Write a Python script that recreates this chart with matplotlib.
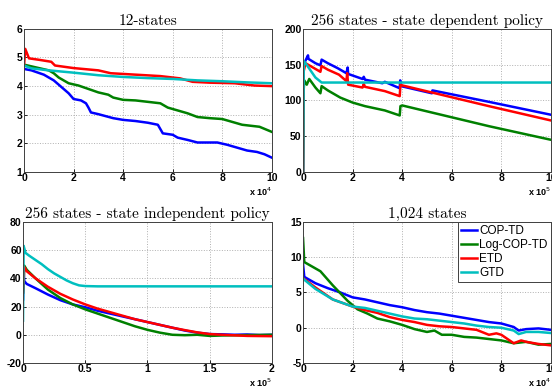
import matplotlib
matplotlib.use('Agg')
import matplotlib.pyplot as plt

# colours (matlab style)
c_blue = '#0000ff'
c_green = '#008000'
c_red = '#ff0000'
c_cyan = '#00bfbf'
labels = ['COP-TD', 'Log-COP-TD', 'ETD', 'GTD']

# ---- 12-states (x in units of 1e4)
s12_blue_x = [0, 0.3, 0.8, 1.0, 1.2, 1.4, 1.6, 1.8, 2.0, 2.3, 2.5, 2.6, 2.7, 3.0, 3.3, 3.6, 4.0, 4.5, 5.0, 5.4, 5.5, 5.6, 6.0, 6.2, 6.6, 7.0, 7.8, 8.2, 8.6, 9.0, 9.4, 9.7, 10]
s12_blue_y = [4.6, 4.55, 4.4, 4.3, 4.2, 4.05, 3.9, 3.75, 3.55, 3.5, 3.4, 3.25, 3.08, 3.02, 2.95, 2.88, 2.82, 2.78, 2.72, 2.65, 2.5, 2.35, 2.3, 2.2, 2.12, 2.03, 2.03, 1.95, 1.85, 1.75, 1.7, 1.62, 1.5]
s12_green_x = [0, 0.5, 1.0, 1.2, 1.4, 1.8, 2.2, 2.6, 3.0, 3.4, 3.6, 4.0, 4.5, 5.0, 5.5, 5.8, 6.2, 6.6, 7.0, 7.5, 8.0, 8.4, 8.8, 9.5, 10]
s12_green_y = [4.75, 4.65, 4.55, 4.45, 4.3, 4.1, 4.02, 3.9, 3.78, 3.7, 3.6, 3.52, 3.5, 3.45, 3.4, 3.25, 3.15, 3.05, 2.92, 2.88, 2.85, 2.75, 2.65, 2.58, 2.4]
s12_red_x = [0, 0.05, 0.2, 0.6, 1.1, 1.25, 2.0, 3.0, 3.5, 4.5, 5.5, 6.3, 6.8, 7.5, 8.5, 9.3, 10]
s12_red_y = [4.7, 5.3, 4.97, 4.92, 4.85, 4.72, 4.63, 4.55, 4.45, 4.4, 4.35, 4.27, 4.15, 4.12, 4.1, 4.02, 4.0]
s12_cyan_x = [0, 0.3, 1.0, 2.0, 3.0, 4.0, 5.0, 6.0, 7.0, 8.0, 9.0, 10]
s12_cyan_y = [4.72, 4.62, 4.55, 4.47, 4.38, 4.32, 4.28, 4.25, 4.2, 4.17, 4.13, 4.1]

# ---- 256 states, state dependent (x in units of 1e5)
dep_blue_x = [0, 0.02, 0.2, 0.22, 0.5, 0.7, 0.75, 1.0, 1.4, 1.75, 1.8, 1.82, 2.4, 2.45, 2.5, 3.2, 3.3, 3.9, 3.92, 3.95, 5.2, 5.22, 7.5, 10]
dep_blue_y = [0, 150, 163, 158, 152, 149, 157, 152, 145, 138, 146, 137, 130, 133, 129, 124, 126, 117, 128, 120, 110, 114, 98, 80]
dep_green_x = [0, 0.02, 0.05, 0.15, 0.25, 0.5, 0.7, 0.75, 1.0, 1.5, 2.0, 2.5, 3.3, 3.9, 3.93, 4.0, 7.5, 10]
dep_green_y = [0, 112, 128, 122, 130, 118, 110, 120, 114, 104, 97, 92, 86, 79, 92, 93, 64, 45]
dep_red_x = [0, 0.02, 0.1, 0.3, 0.7, 0.75, 1.0, 1.45, 1.75, 1.78, 1.82, 2.4, 2.45, 2.5, 3.3, 3.9, 3.93, 4.0, 7.5, 10]
dep_red_y = [0, 140, 152, 148, 140, 148, 143, 136, 127, 138, 122, 118, 123, 119, 113, 106, 122, 121, 92, 72]
dep_cyan_x = [0, 0.03, 0.1, 0.3, 0.5, 0.75, 10]
dep_cyan_y = [0, 155, 152, 142, 132, 125, 125]

# ---- 256 states, state independent (x in units of 1e5)
ind_blue_x = [0, 0.005, 0.01, 0.03, 0.1, 0.2, 0.3, 0.4, 0.5, 0.6, 0.7, 0.8, 0.9, 1.0, 1.1, 1.2, 1.3, 1.4, 1.5, 1.6, 1.7, 1.8, 1.9, 2.0]
ind_blue_y = [25, 45, 38, 36, 33, 28.5, 24.5, 21.5, 19.5, 17, 15, 13, 11, 9, 7, 5, 3, 1.5, 0.5, 0.3, 0, 0.2, -0.2, 0]
ind_green_x = [0, 0.01, 0.03, 0.1, 0.2, 0.3, 0.4, 0.5, 0.6, 0.7, 0.8, 0.9, 1.0, 1.1, 1.2, 1.3, 1.4, 1.5, 1.6, 2.0]
ind_green_y = [30, 49, 46, 40, 32, 26, 21.5, 18, 15, 12, 9, 6, 3.5, 1.5, 0, -0.3, 0, -0.8, -0.5, 0]
ind_red_x = [0, 0.01, 0.03, 0.1, 0.2, 0.3, 0.4, 0.5, 0.6, 0.7, 0.8, 0.9, 1.0, 1.1, 1.2, 1.3, 1.4, 1.5, 1.6, 1.8, 2.0]
ind_red_y = [30, 48, 45, 40, 34, 29, 25, 21.5, 18.5, 16, 13.5, 11, 9, 7, 5, 3.3, 1.7, 0.5, 0, -0.8, -1]
ind_cyan_x = [0, 0.005, 0.02, 0.05, 0.1, 0.15, 0.2, 0.25, 0.3, 0.35, 0.4, 0.45, 0.5, 0.6, 2.0]
ind_cyan_y = [10, 63, 58, 56, 53, 50, 46.5, 43.5, 41, 38.5, 36.5, 35, 34.5, 34.3, 34.3]

# ---- 1,024 states (x in units of 1e4)
k_blue_x = [0, 0.05, 0.2, 0.5, 1, 1.5, 2, 2.5, 3, 3.5, 4, 4.5, 5, 5.5, 6, 6.5, 7, 7.5, 8, 8.5, 8.7, 9, 9.5, 10]
k_blue_y = [9, 7.2, 6.9, 6.3, 5.6, 5.0, 4.3, 4.0, 3.6, 3.2, 2.9, 2.5, 2.2, 2.0, 1.7, 1.4, 1.1, 0.8, 0.6, 0.1, -0.4, -0.2, -0.1, -0.3]
k_green_x = [0, 0.05, 0.3, 0.7, 1.2, 1.8, 2.2, 2.6, 3.0, 3.5, 4.0, 4.5, 5.0, 5.3, 5.6, 6.0, 6.5, 7.0, 7.5, 8.0, 8.5, 9.0, 9.5, 10]
k_green_y = [12.7, 9.3, 8.8, 8.0, 6.0, 3.8, 2.6, 2.0, 1.3, 0.9, 0.4, -0.2, -0.6, -0.4, -1.0, -1.0, -1.3, -1.4, -1.6, -1.8, -2.2, -2.0, -2.4, -2.3]
k_red_x = [0, 0.05, 0.5, 1.2, 2.0, 2.5, 3.0, 3.5, 4.0, 4.5, 5.0, 5.5, 6.0, 6.5, 7.0, 7.5, 7.8, 8.0, 8.5, 8.8, 9.0, 9.5, 10]
k_red_y = [7.0, 6.9, 5.7, 4.0, 3.0, 2.5, 2.1, 1.5, 1.1, 0.8, 0.4, 0.2, 0.1, -0.1, -0.3, -1.0, -0.8, -1.0, -2.2, -1.8, -2.0, -2.3, -2.5]
k_cyan_x = [0, 0.05, 0.5, 1.2, 2.0, 2.5, 3.0, 3.5, 4.0, 4.5, 5.0, 5.5, 6.0, 6.5, 7.0, 7.5, 8.0, 8.5, 8.7, 9.0, 9.5, 10]
k_cyan_y = [7.0, 6.8, 5.5, 4.0, 3.0, 2.8, 2.4, 2.0, 1.6, 1.3, 1.2, 1.0, 0.8, 0.6, 0.3, 0.1, 0.0, -0.4, -0.9, -0.6, -0.6, -0.75]

fig = plt.figure(figsize=(5.52, 3.9), dpi=100)
ax1 = fig.add_axes([0.0435, 0.559, 0.449, 0.367])
ax2 = fig.add_axes([0.549, 0.559, 0.449, 0.367])
ax3 = fig.add_axes([0.0417, 0.0692, 0.451, 0.362])
ax4 = fig.add_axes([0.549, 0.0692, 0.449, 0.362])

panels = [
    (ax1, '12-states', [(s12_blue_x, s12_blue_y), (s12_green_x, s12_green_y), (s12_red_x, s12_red_y), (s12_cyan_x, s12_cyan_y)],
     (0, 10), (1, 6), [0, 2, 4, 6, 8, 10], [1, 2, 3, 4, 5, 6], '4'),
    (ax2, '256 states - state dependent policy', [(dep_blue_x, dep_blue_y), (dep_green_x, dep_green_y), (dep_red_x, dep_red_y), (dep_cyan_x, dep_cyan_y)],
     (0, 10), (0, 200), [0, 2, 4, 6, 8, 10], [0, 50, 100, 150, 200], '5'),
    (ax3, '256 states - state independent policy', [(ind_blue_x, ind_blue_y), (ind_green_x, ind_green_y), (ind_red_x, ind_red_y), (ind_cyan_x, ind_cyan_y)],
     (0, 2), (-20, 80), [0, 0.5, 1, 1.5, 2], [-20, 0, 20, 40, 60, 80], '5'),
    (ax4, '1,024 states', [(k_blue_x, k_blue_y), (k_green_x, k_green_y), (k_red_x, k_red_y), (k_cyan_x, k_cyan_y)],
     (0, 10), (-5, 15), [0, 2, 4, 6, 8, 10], [-5, 0, 5, 10, 15], '4'),
]
colors = [c_blue, c_green, c_red, c_cyan]

for ax, title, series, xl, yl, xt, yt, expo in panels:
    for (x, y), c, lab in zip(series, colors, labels):
        ax.plot(x, y, color=c, lw=1.8, label=lab)
    ax.set_xlim(xl)
    ax.set_ylim(yl)
    ax.set_xticks(xt)
    ax.set_yticks(yt)
    ax.set_xticklabels(['%g' % v for v in xt], fontweight='bold', fontsize=7.5, family='Liberation Sans')
    ax.set_yticklabels(['%g' % v for v in yt], fontweight='bold', fontsize=7.5, family='Liberation Sans')
    ax.tick_params(direction='in', length=2, width=0.6, pad=1)
    ax.grid(True, linestyle=':', color='#b0b0b0', lw=0.7)
    for sp in ax.spines.values():
        sp.set_linewidth(0.7)
        sp.set_color('#404040')
    ax.set_title(title, family='cmr10', fontsize=11, pad=3)
    ax.text(1.0, -0.095, 'x 10$^{%s}$' % expo, transform=ax.transAxes, ha='right', va='top',
            fontsize=6.5, fontweight='bold', family='Liberation Sans')

leg = ax4.legend(loc='upper right', handlelength=1.3, handletextpad=0.2,
                 labelspacing=0.15, borderaxespad=0, borderpad=0.3, fancybox=False,
                 framealpha=1, edgecolor='#404040', prop={'family': 'Liberation Sans', 'size': 8.5})
leg.get_frame().set_linewidth(0.7)

fig.savefig('out.png', dpi=100)
